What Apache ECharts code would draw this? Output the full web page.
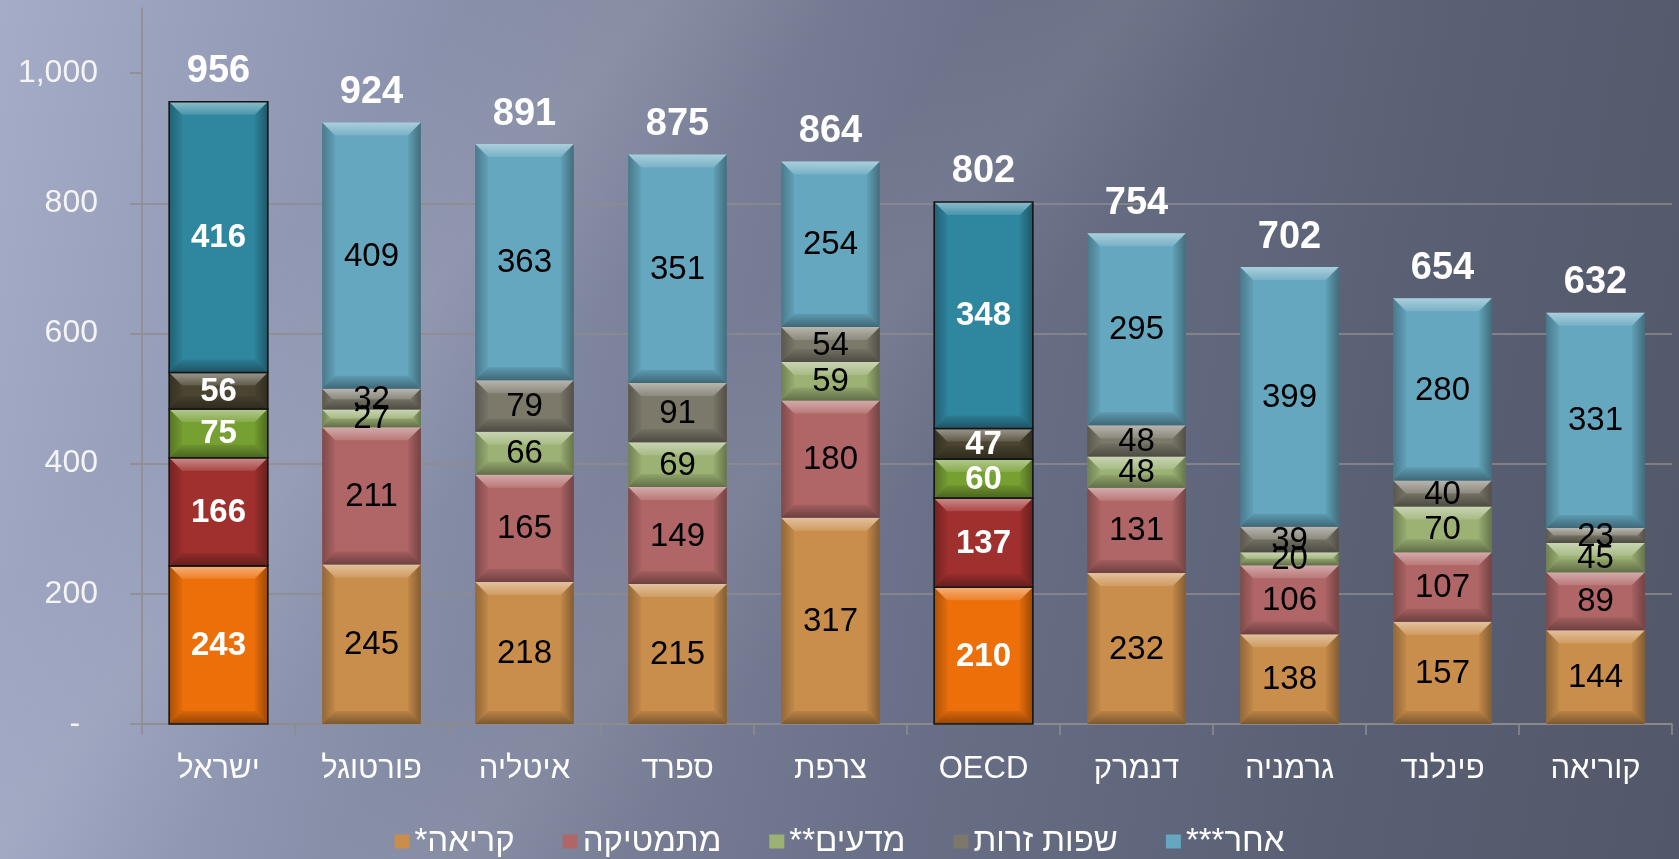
<!DOCTYPE html>
<html><head><meta charset="utf-8">
<script src="https://cdn.jsdelivr.net/npm/echarts@6/dist/echarts.min.js"></script>
<style>
html,body{margin:0;padding:0;width:1679px;height:859px;overflow:hidden;}
#c{width:1679px;height:859px;background:
 linear-gradient(128deg, rgba(255,255,255,0) 20%, rgba(255,255,255,0.08) 28%, rgba(255,255,255,0) 36%, rgba(255,255,255,0) 42%, rgba(255,255,255,0.06) 48%, rgba(255,255,255,0) 55%),
 linear-gradient(100deg, #A5ACC8 0%, #959CB8 14%, #7D849C 36%, #686E85 58%, #5A6074 80%, #525769 100%);}
</style></head><body><div id="c"></div>
<script>
// ---- data ----
const categories = ['ישראל','פורטוגל','איטליה','ספרד','צרפת','OECD','דנמרק','גרמניה','פינלנד','קוריאה'];
const seriesNames = ['קריאה*','מתמטיקה','מדעים**','שפות זרות','אחר***'];
const reading   = [243,245,218,215,317,210,232,138,157,144];
const math      = [166,211,165,149,180,137,131,106,107,89];
const science   = [75,27,66,69,59,60,48,20,70,45];
const languages = [56,32,79,91,54,47,48,39,40,23];
const other     = [416,409,363,351,254,348,295,399,280,331];
const totals    = [956,924,891,875,864,802,754,702,654,632];
const yTickValues = [0,200,400,600,800,1000];
const highlighted = ['ישראל','OECD'];

// ---- style ----
const FONT = '"Liberation Sans","DejaVu Sans",sans-serif';
const normalColors = ['#C98E4C','#B06666','#9CB274','#7C796B','#65A7BF'];
const hiColors     = ['#EC6F0A','#A0302E','#76A032','#4A4430','#2F869F'];
const valueSets = [reading, math, science, languages, other];

const series = valueSets.map((vals, k) => {
  const data = vals.map((v, i) => {
    let base = 0;
    for (let j = 0; j < k; j++) base += valueSets[j][i];
    return [i, base, base + v, v];
  });
  return {
    type: 'custom',
    name: seriesNames[k],
    itemStyle: { color: normalColors[k] },
    encode: { x: 0, y: [1, 2] },
    data: data,
    renderItem: function (params, api) {
      const i = api.value(0), b = api.value(1), t = api.value(2), v = api.value(3);
      const p0 = api.coord([i, b]), p1 = api.coord([i, t]);
      const w = api.size([1, 0])[0] * 0.645;
      const x0 = p0[0] - w / 2, x1 = p0[0] + w / 2, yb = p0[1], yt = p1[1];
      const h = yb - yt;
      const hl = highlighted.indexOf(categories[i]) >= 0;
      const col = hl ? hiColors[k] : normalColors[k];
      const bv = Math.min(13, h / 2, w / 2);
      const lin = (a, c, horiz) => ({ type: 'linear', x: 0, y: 0, x2: horiz ? 1 : 0, y2: horiz ? 0 : 1,
        colorStops: [{ offset: 0, color: a }, { offset: 1, color: c }] });
      const children = [
        { type: 'rect', shape: { x: x0, y: yt, width: w, height: h }, style: { fill: col } },
        { type: 'polygon', shape: { points: [[x0, yt], [x1, yt], [x1 - bv, yt + bv], [x0 + bv, yt + bv]] },
          style: { fill: lin('rgba(255,255,255,0.45)', 'rgba(255,255,255,0.12)', false) } },
        { type: 'polygon', shape: { points: [[x0, yb], [x1, yb], [x1 - bv, yb - bv], [x0 + bv, yb - bv]] },
          style: { fill: lin('rgba(0,0,0,0.08)', 'rgba(0,0,0,0.38)', false) } },
        { type: 'polygon', shape: { points: [[x0, yt], [x0 + bv, yt + bv], [x0 + bv, yb - bv], [x0, yb]] },
          style: { fill: lin('rgba(0,0,0,0.28)', 'rgba(0,0,0,0.04)', true) } },
        { type: 'polygon', shape: { points: [[x1, yt], [x1 - bv, yt + bv], [x1 - bv, yb - bv], [x1, yb]] },
          style: { fill: lin('rgba(0,0,0,0.04)', 'rgba(0,0,0,0.35)', true) } }
      ];
      if (hl) {
        children.push({ type: 'rect', shape: { x: x0, y: yt, width: w, height: h },
          style: { fill: 'none', stroke: '#141414', lineWidth: 1.6 } });
      }
      children.push({ type: 'text', z2: 100,
        style: { text: String(v), x: p0[0], y: (yb + yt) / 2 + 1,
          textAlign: 'center', textVerticalAlign: 'middle', align: 'center', verticalAlign: 'middle',
          fill: hl ? '#FFFFFF' : '#000000',
          font: (hl ? 'bold ' : '') + '33px ' + FONT } });
      return { type: 'group', children: children };
    }
  };
});

series.push({
  type: 'custom',
  name: 'totals',
  encode: { x: 0, y: 1 },
  data: totals.map((t, i) => [i, t]),
  z: 3,
  renderItem: function (params, api) {
    const p = api.coord([api.value(0), api.value(1)]);
    return { type: 'text', z2: 100,
      style: { text: String(api.value(1)), x: p[0], y: p[1] - 30,
        textAlign: 'center', textVerticalAlign: 'middle', align: 'center', verticalAlign: 'middle',
        fill: '#FFFFFF', font: 'bold 38px ' + FONT } };
  }
});

const gridColor = '#8E8C8C';
const chart = echarts.init(document.getElementById('c'), null, { renderer: 'canvas' });
chart.setOption({
  animation: false,
  backgroundColor: 'transparent',
  grid: { left: 142, right: 7, top: 8, bottom: 135, containLabel: false },
  legend: {
    data: seriesNames,
    left: 'center',
    top: 820,
    icon: 'rect',
    itemWidth: 15,
    itemHeight: 14,
    itemGap: 48,
    formatter: n => n + '\u200F',
    textStyle: { color: '#FFFFFF', fontSize: 33, fontFamily: FONT }
  },
  xAxis: {
    type: 'category',
    data: categories,
    axisLine: { lineStyle: { color: gridColor, width: 1.5 } },
    axisTick: { show: true, length: 11, lineStyle: { color: gridColor, width: 1.5 } },
    axisLabel: { color: '#FFFFFF', fontSize: 31, fontFamily: FONT, margin: 30 }
  },
  yAxis: {
    type: 'value',
    min: 0, max: 1100, interval: 100,
    axisLine: { show: true, lineStyle: { color: gridColor, width: 1.5 } },
    axisTick: { show: true, length: 12, customValues: yTickValues, lineStyle: { color: gridColor, width: 1.5 } },
    axisLabel: {
      customValues: yTickValues,
      color: '#F4F4F4', fontSize: 32, fontFamily: FONT, margin: 44,
      formatter: v => v === 0 ? '-  ' : (v >= 1000 ? (Math.floor(v / 1000) + ',' + String(v % 1000).padStart(3, '0')) : String(v))
    },
    splitLine: { show: true, showMaxLine: false, lineStyle: { color: gridColor, width: 1.5 } }
  },
  series: series
});
</script></body></html>
